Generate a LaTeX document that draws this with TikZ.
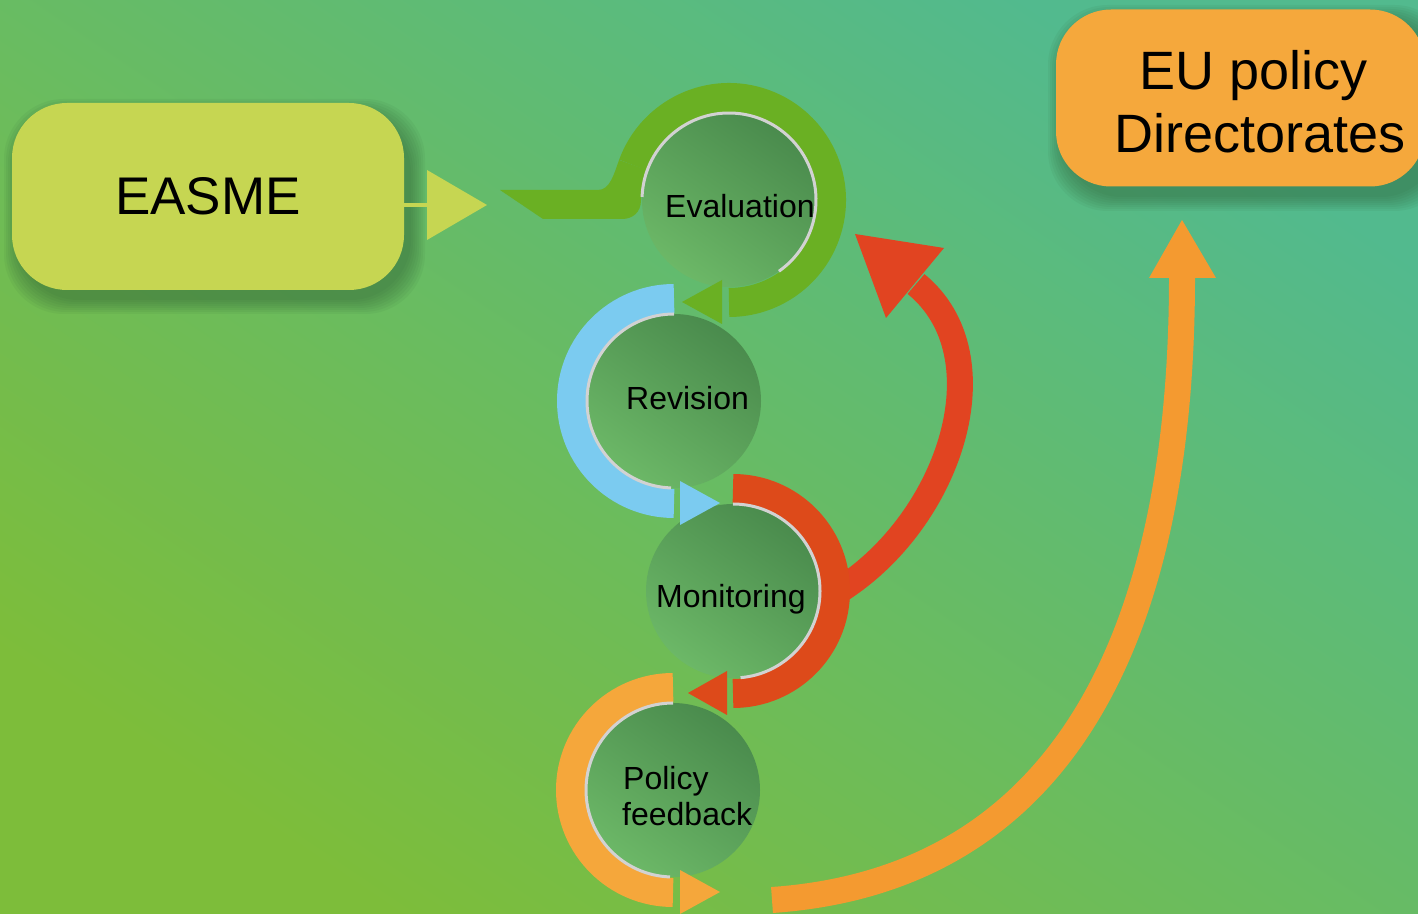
\documentclass[tikz,border=0pt]{standalone}
\usepackage{fontspec}
\setmainfont{Liberation Sans}
\usetikzlibrary{calc}
\definecolor{bgtop}{HTML}{52BA8E}
\definecolor{bgbot}{HTML}{7DBD3A}
\definecolor{evalgreen}{HTML}{6AB023}
\definecolor{revblue}{HTML}{7BCBF0}
\definecolor{monred}{HTML}{DD4A1A}
\definecolor{bigred}{HTML}{E14421}
\definecolor{polorange}{HTML}{F5A73B}
\definecolor{bigorange}{HTML}{F49A30}
\definecolor{easmecol}{HTML}{C6D652}
\definecolor{eucol}{HTML}{F5A83C}
\definecolor{rimcol}{HTML}{D2D2D2}
\definecolor{discdark}{HTML}{4A8B4D}
\definecolor{disclight}{HTML}{6CB867}
\definecolor{shadowcol}{HTML}{2F5F35}
\begin{document}
\begin{tikzpicture}[x=1pt,y=1pt,
  rbox/.style={rounded corners=55pt, inner sep=0pt, draw=none},
  disc/.style={top color=discdark, bottom color=disclight, shading angle=-35},
  band/.style={line width=29pt},
  rim/.style={rimcol, line width=3pt},
  lbl/.style={anchor=base west, inner sep=0pt, font=\fontsize{32}{36}\selectfont},
  bigtxt/.style={anchor=base west, inner sep=0pt, font=\fontsize{54}{63}\selectfont}]
\useasboundingbox (0,0) rectangle (1418,913);
\shade[top color=bgtop, bottom color=bgbot, shading angle=-34] (0,0) rectangle (1418,913);

% soft shadows
\foreach \e in {0,2,...,14} {
  \fill[shadowcol, opacity=0.07, rounded corners=60pt] (18-\e,613-\e) rectangle (411+\e,800+\e);
  \fill[shadowcol, opacity=0.07, rounded corners=60pt] (1062-\e,716-\e) rectangle (1440+\e,894+\e);
}

% boxes
\node[rbox, fill=easmecol, minimum width=392pt, minimum height=187pt,
      font=\fontsize{53}{60}\selectfont] (easme) at (208,716.5) {EASME};
\node[rbox, fill=eucol, minimum width=369pt, minimum height=177pt] (eu) at (1240.5,815) {};
\node[bigtxt] (eu1) at (1139,823) {EU policy};
\node[bigtxt] (eu2) at (1114,760) {Directorates};

% connector from EASME
\coordinate (tri) at (427,708);
\draw[easmecol, line width=4pt] (easme.east |- tri) -- (tri);
\fill[easmecol] (427,743) -- (427,673) -- (487,708) -- cycle;

% circle centres
\coordinate (ce) at (729,713);
\coordinate (cr) at (674,512);
\coordinate (cm) at (733,322);
\coordinate (cp) at (673,123);

% discs
\shade[disc] (ce) circle[radius=87];
\shade[disc] (cr) circle[radius=87];
\shade[disc] (cm) circle[radius=87];
\shade[disc] (cp) circle[radius=87];

% big arrows
\draw[bigred, line width=26pt] (840,323) .. controls (950,393) and (1004,557) .. (916,629);
\fill[bigred] (855,679) -- (944,665) -- (886,595) -- cycle;
\draw[bigorange, line width=26pt] (772,13) .. controls (1060,33) and (1182,273) .. (1182,636);
\fill[bigorange] (1149,635) -- (1216,635) -- (1182,693) -- cycle;

% evaluation arc with lead-in
\fill[evalgreen] (500,723) -- (598,723) .. controls (610,723) and (614,739) .. (619.06,753.02)
  -- ($(ce)+(160:88)$) arc[start angle=160, end angle=180, radius=88]
  .. controls (641,700) and (632,694) .. (622,694) -- (543,694) -- cycle;
\draw[band, evalgreen] (ce) ++(160:102.5) arc[start angle=160, end angle=-90, radius=102.5];
\fill[evalgreen] (722,633) -- (722,589) -- (682,611) -- cycle;

% revision arc
\draw[band, revblue] (cr) ++(90:102.5) arc[start angle=90, end angle=270, radius=102.5];
\fill[revblue] (680,432) -- (680,388) -- (720,410) -- cycle;

% monitoring arc
\draw[band, monred] (cm) ++(90:102.5) arc[start angle=90, end angle=-90, radius=102.5];
\fill[monred] (727,242) -- (727,198) -- (688,220) -- cycle;

% policy feedback arc
\draw[band, polorange] (cp) ++(90:102.5) arc[start angle=90, end angle=270, radius=102.5];
\fill[polorange] (680,43) -- (680,-1) -- (720,21) -- cycle;

% grey rims
\draw[rim] (ce) ++(178:87) arc[start angle=178, end angle=-55, radius=87];
\draw[rim] (cr) ++(90:87) arc[start angle=90, end angle=268, radius=87];
\draw[rim] (cm) ++(90:87) arc[start angle=90, end angle=-85, radius=87];
\draw[rim] (cp) ++(90:87) arc[start angle=90, end angle=268, radius=87];

% labels
\node[lbl] (tev) at (665,695) {Evaluation};
\node[lbl] (trev) at (626,503) {Revision};
\node[lbl] (tmon) at (656,305) {Monitoring};
\node[lbl] (tpol1) at (623,124) {Policy};
\node[lbl] (tpol2) at (622,88) {feedback};
\end{tikzpicture}
\end{document}
